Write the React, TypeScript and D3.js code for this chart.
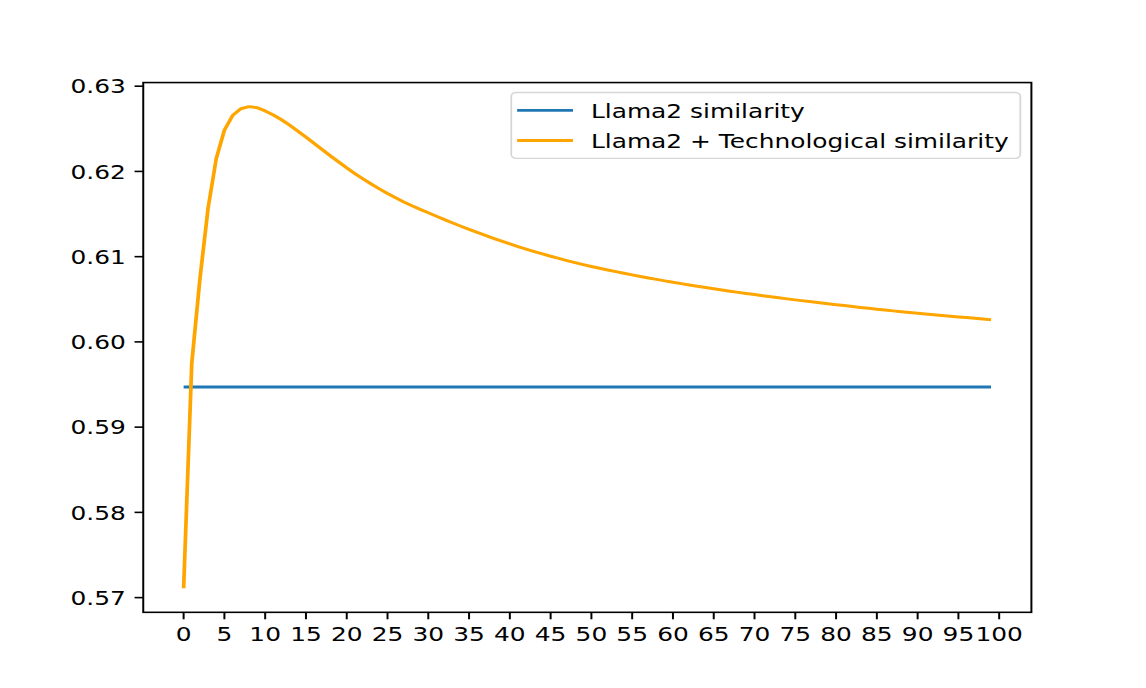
import * as d3 from "d3";
import { useEffect, useRef } from "react";

// values (step 0..99)
const steps = d3.range(0, 100);

const llamaSimilarity = 0.5947;

const llamaTechSimilarity = [
  0.5711, 0.5975, 0.6074, 0.6157, 0.6215, 0.62485, 0.62655, 0.62735, 0.6276, 0.62748,
  0.6271, 0.62662, 0.62606, 0.62543, 0.62474, 0.62402, 0.62329, 0.62256, 0.62183, 0.62111,
  0.62041, 0.61975, 0.61912, 0.61852, 0.61795, 0.61741, 0.6169, 0.61642, 0.61597, 0.61555,
  0.61515, 0.61474, 0.61434, 0.61395, 0.61357, 0.6132, 0.61284, 0.61249, 0.61215, 0.61182,
  0.6115, 0.61119, 0.61089, 0.6106, 0.61032, 0.61005, 0.60979, 0.60954, 0.6093, 0.60907,
  0.60885, 0.60864, 0.60844, 0.60824, 0.60805, 0.60786, 0.60768, 0.6075, 0.60733, 0.60716,
  0.607, 0.60684, 0.60668, 0.60653, 0.60638, 0.60623, 0.60609, 0.60595, 0.60581, 0.60568,
  0.60555, 0.60542, 0.60529, 0.60517, 0.60505, 0.60493, 0.60481, 0.6047, 0.60459, 0.60448,
  0.60437, 0.60426, 0.60415, 0.60404, 0.60394, 0.60384, 0.60374, 0.60364, 0.60354, 0.60345,
  0.60336, 0.60327, 0.60318, 0.60309, 0.60301, 0.60293, 0.60285, 0.60277, 0.60269, 0.60261,
];

const xTicks = d3.range(0, 101, 5);
const yTicks = [0.57, 0.58, 0.59, 0.6, 0.61, 0.62, 0.63];

const legendItems = [
  { label: "Llama2 similarity", color: "#1f77b4" },
  { label: "Llama2 + Technological similarity", color: "orange" },
];

// the figure is drawn at 640x480 and stretched to the page size
const W = 640;
const H = 480;
const OUT_W = 1146;
const OUT_H = 688;

export default function App() {
  const svgRef = useRef<SVGSVGElement | null>(null);

  useEffect(() => {
    if (!svgRef.current) return;
    const svg = d3.select(svgRef.current);
    svg.selectAll("*").remove();

    const font = "DejaVu Sans, sans-serif";
    const fs = 13.89;
    const tickLen = 4.86;
    const pad = 4.86;

    const left = 80;
    const right = 576;
    const top = 57.6;
    const bottom = 427.2;

    // 5% margins like matplotlib
    const xMin = d3.min(steps)!;
    const xMax = d3.max(steps)!;
    const xPad = (xMax - xMin) * 0.05;
    const allY = [...llamaTechSimilarity, llamaSimilarity];
    const yMin = d3.min(allY)!;
    const yMax = d3.max(allY)!;
    const yPad = (yMax - yMin) * 0.05;

    const x = d3.scaleLinear().domain([xMin - xPad, xMax + xPad]).range([left, right]);
    const y = d3.scaleLinear().domain([yMin - yPad, yMax + yPad]).range([bottom, top]);

    svg.append("rect").attr("width", W).attr("height", H).attr("fill", "#fff");

    const g = svg.append("g");

    // lines
    const line = d3
      .line<number>()
      .x((_, i) => x(steps[i]))
      .y((d) => y(d));

    g.append("path")
      .datum(steps.map(() => llamaSimilarity))
      .attr("fill", "none")
      .attr("stroke", "#1f77b4")
      .attr("stroke-width", 2.08)
      .attr("d", line);

    g.append("path")
      .datum(llamaTechSimilarity)
      .attr("fill", "none")
      .attr("stroke", "orange")
      .attr("stroke-width", 2.08)
      .attr("stroke-linejoin", "round")
      .attr("d", line);

    // spines
    g.append("rect")
      .attr("x", left)
      .attr("y", top)
      .attr("width", right - left)
      .attr("height", bottom - top)
      .attr("fill", "none")
      .attr("stroke", "#000")
      .attr("stroke-width", 1.11);

    // x ticks
    const xt = g.selectAll(".xt").data(xTicks).enter().append("g")
      .attr("transform", (d) => `translate(${x(d)},${bottom})`);
    xt.append("line").attr("y2", tickLen).attr("stroke", "#000").attr("stroke-width", 1.11);
    xt.append("text")
      .attr("y", tickLen + pad + 10.1)
      .attr("text-anchor", "middle")
      .attr("font-family", font)
      .attr("font-size", fs)
      .attr("fill", "#000")
      .text((d) => String(d));

    // y ticks
    const yt = g.selectAll(".yt").data(yTicks).enter().append("g")
      .attr("transform", (d) => `translate(${left},${y(d)})`);
    yt.append("line").attr("x2", -tickLen).attr("stroke", "#000").attr("stroke-width", 1.11);
    yt.append("text")
      .attr("x", -tickLen - pad)
      .attr("y", 5.0)
      .attr("text-anchor", "end")
      .attr("font-family", font)
      .attr("font-size", fs)
      .attr("fill", "#000")
      .text((d) => d3.format(".2f")(d));

    // legend (upper right)
    const legX = 285.5;
    const legY = 64.5;
    const legW = 569.8 - legX;
    const legH = 46;
    const lg = svg.append("g");
    lg.append("rect")
      .attr("x", legX)
      .attr("y", legY)
      .attr("width", legW)
      .attr("height", legH)
      .attr("rx", 2.8)
      .attr("fill", "#fff")
      .attr("fill-opacity", 0.8)
      .attr("stroke", "#cccccc")
      .attr("stroke-opacity", 0.8)
      .attr("stroke-width", 1.0);

    const rows = lg.selectAll(".leg").data(legendItems).enter().append("g")
      .attr("transform", (_, i) => `translate(${legX},${legY + 12.5 + i * 21})`);
    rows.append("line")
      .attr("x1", 3.3)
      .attr("x2", 34.5)
      .attr("stroke", (d) => d.color)
      .attr("stroke-width", 2.08);
    rows.append("text")
      .attr("x", 44.5)
      .attr("y", 5.0)
      .attr("font-family", font)
      .attr("font-size", fs)
      .attr("fill", "#000")
      .text((d) => d.label);
  }, []);

  return (
    <svg
      ref={svgRef}
      width={OUT_W}
      height={OUT_H}
      viewBox={`0 0 ${W} ${H}`}
      preserveAspectRatio="none"
      style={{ position: "absolute", left: 0, top: 0 }}
    />
  );
}
